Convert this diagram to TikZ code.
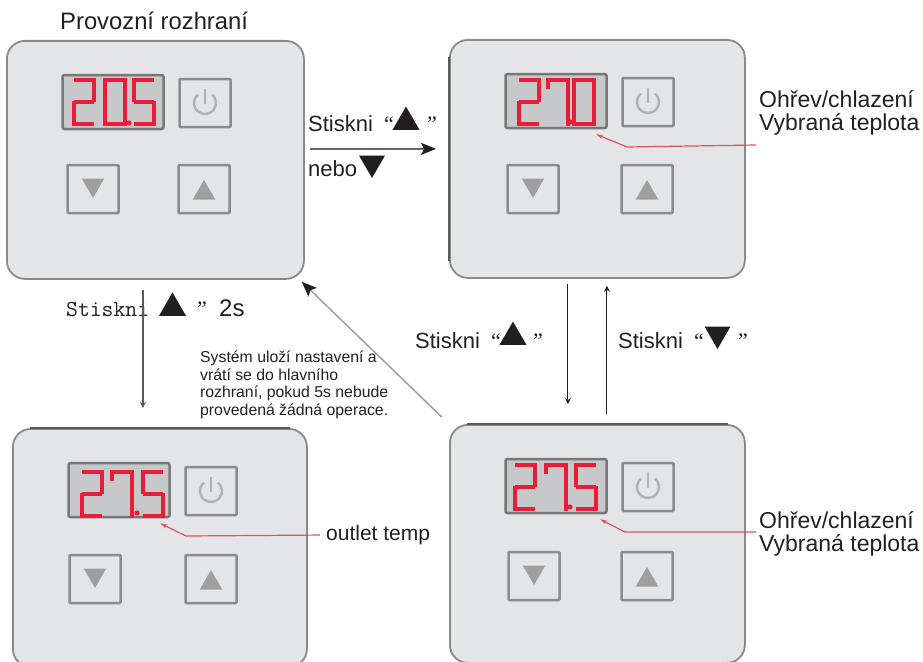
\documentclass[tikz,border=0pt]{standalone}
\usepackage{fontspec}
\setmainfont{Liberation Sans}
\newfontfamily\quotefont{Liberation Serif}
\usetikzlibrary{shapes.geometric}
\usetikzlibrary{arrows.meta}
\usetikzlibrary{calc}

\definecolor{panelfill}{HTML}{E3E5E8}
\definecolor{panelline}{HTML}{8A8A8A}
\definecolor{dispfill}{HTML}{C6C8CA}
\definecolor{btnline}{HTML}{8C8C8C}
\definecolor{ledred}{HTML}{EA1C38}
\definecolor{leadred}{HTML}{E4505C}
\definecolor{inktext}{HTML}{231F20}

\tikzset{
  panelbox/.style={draw=panelline, line width=1.8pt, fill=panelfill, rounded corners=18pt,
    minimum height=238pt, inner sep=0pt, anchor=north west},
  paneledge/.style={draw=black!65, line width=1.3pt},
  dispbox/.style={draw=btnline!85!black, line width=2.5pt, fill=dispfill, rounded corners=2pt,
    minimum width=101pt, minimum height=54pt, inner sep=0pt},
  btnbox/.style={draw=btnline, line width=2.5pt, fill=panelfill, rounded corners=1pt,
    minimum width=51pt, minimum height=48pt, inner sep=0pt},
  triup/.style={regular polygon, regular polygon sides=3, fill=#1, draw=none, inner sep=0pt},
  tridown/.style={triup=#1, shape border rotate=180},
  seg/.style={draw=ledred, line width=4.6pt},
  words/.style={text=inktext, inner sep=0pt, anchor=base west, font=\fontsize{22}{26}\selectfont},
  flowbig/.style={draw=#1, line width=1.5pt, -{Stealth[length=15pt,width=12pt,inset=3pt,color=inktext]}},
  flowsmall/.style={draw=inktext, line width=1.1pt, -{Stealth[length=6pt,width=6pt]}},
  lead/.style={draw=leadred, line width=1.2pt, -{Stealth[length=7pt,width=4pt]}}
}

% one segment each, digit box 20 x 44
\def\sega{(0,0) -- (20,0)}
\def\segb{(20,-2) -- (20,22)}
\def\segc{(20,21) -- (20,46)}
\def\segd{(0,44) -- (20,44)}
\def\sege{(0,21) -- (0,46)}
\def\segf{(0,-2) -- (0,22)}
\def\segg{(0,22) -- (20,22)}
\def\segh{(0,-2) -- (0,9)}

\newcommand{\segdigit}[3]{
  \foreach \s in {#3} {
    \draw[seg,shift={(#1,#2)}] \csname seg\s\endcsname;
  }
}

% name, x, y, width, down button x, up button x, button row y
\newcommand{\panel}[7]{
  \node[panelbox, minimum width=#4pt] (#1) at (#2,#3) {};
  \begin{scope}[shift={(#2,#3)}]
    \node[dispbox] (#1disp) at (107,62) {};
    \node[btnbox] (#1power) at (199,63) {};
    \node[btnbox] (#1down) at (#5,#7) {};
    \node[btnbox] (#1up) at (#6,#7) {};
    \node[tridown=gray!75, minimum size=26pt, yshift=4pt] (#1downmark) at (#1down.center) {};
    \node[triup=gray!75, minimum size=26pt, yshift=-4pt] (#1upmark) at (#1up.center) {};
    \draw[draw=gray!60, line width=2.4pt] ([shift={(50:11pt)}]#1power.center) arc[start angle=50, end angle=-230, radius=11pt];
    \draw[draw=gray!60, line width=2.4pt] ($(#1power.center)+(0,-14)$) -- ($(#1power.center)+(0,1)$);
  \end{scope}
}

\begin{document}
\begin{tikzpicture}[x=1pt,y=-1pt]
  \path[use as bounding box, clip] (0,0) rectangle (923,661);

  % operating panels
  \panel{main}{6}{40}{297}{87}{198}{149}
  \panel{set}{449}{39}{295}{84}{198}{150}
  \panel{out}{12}{428}{294}{83}{199}{151}
  \panel{hot}{449}{424}{295}{85}{198}{152}

  % darker rims
  \draw[paneledge] ($(set.north west)+(0,18)$) -- ($(set.south west)+(0,-18)$);
  \draw[paneledge] ($(out.north west)+(18,0)$) -- ($(out.north east)+(-18,0)$);
  \draw[paneledge] ($(hot.north west)+(18,0)$) -- ($(hot.north east)+(-18,0)$);

  % display digits
  \segdigit{74}{80}{a,b,g,e,d}
  \segdigit{105}{80}{a,b,c,d,e,f}
  \segdigit{134}{80}{a,f,g,c,d}
  \fill[ledred] (129,123) circle (2.6pt);

  \segdigit{519}{80}{a,b,g,e,d}
  \segdigit{548}{80}{a,b,c,h}
  \segdigit{574}{80}{a,b,c,d,e,f}
  \fill[ledred] (570,122) circle (2.6pt);

  \segdigit{82}{472}{a,b,g,e,d}
  \segdigit{112}{472}{a,b,c,h}
  \segdigit{143}{472}{a,f,g,c,d}
  \fill[ledred] (137,513) circle (2.6pt);

  \segdigit{515}{465}{a,b,g,e,d}
  \segdigit{546}{465}{a,b,c,h}
  \segdigit{576}{465}{a,f,g,c,d}
  \fill[ledred] (570,507) circle (2.6pt);

  % title
  \node[words, font=\fontsize{23.8}{28}\selectfont] (title) at (60,30) {Provozní rozhraní};

  % main to set
  \node[words] (pressa) at (308,131) {Stiskni\hspace{11pt}{\quotefont “}};
  \node[triup=inktext, minimum size=31pt] (pressamark) at (406,122) {};
  \node[words] (pressaend) at (427,131) {\quotefont ”};
  \node[words] (orb) at (308,176) {nebo};
  \node[tridown=inktext, minimum size=30pt] (orbmark) at (372,163) {};
  \draw[flowbig=gray!80!black, shorten <=5pt, shorten >=13pt] ($(main.east)+(0,-11)$) -- ($(set.west)+(0,-10)$);

  % main to out
  \node[words, font=\ttfamily\fontsize{23}{26}\selectfont] (pressc) at (66,316) {Stiskni};
  \node[triup=inktext, minimum size=31pt] (presscmark) at (172.5,308) {};
  \node[words] (presscend) at (197,316) {\quotefont ”};
  \node[words, font=\fontsize{24}{26}\selectfont] (pressctime) at (219,316) {2s};
  \draw[flowsmall, draw=gray!70!black, line width=1.4pt, shorten <=10pt, shorten >=20pt] ($(main.south)+(-12.5,0)$) -- ($(out.north)+(-17,0)$);

  % back to main
  \node[text=inktext, inner sep=0pt, anchor=north west, align=left, font=\fontsize{15.8}{17.5}\selectfont]
        (note) at (200,351) {Systém uloží nastavení a\\vrátí se do hlavního\\rozhraní, pokud 5s nebude\\provedená žádná operace.};
  \draw[flowbig=gray!75, shorten <=10pt] (hot.north west) -- ($(main.south east)+(-3,2)$);

  % set and hot
  \node[words] (pressd) at (415,348) {Stiskni\hspace{11pt}{\quotefont “}};
  \node[triup=inktext, minimum size=31pt] (pressdmark) at (513,337) {};
  \node[words] (pressdend) at (533,348) {\quotefont ”};
  \node[words] (presse) at (618,348) {Stiskni\hspace{11pt}{\quotefont “}};
  \node[tridown=inktext, minimum size=30pt] (pressemark) at (717.5,334) {};
  \node[words] (presseend) at (738,348) {\quotefont ”};
  \draw[flowsmall, shorten <=5pt, shorten >=20pt] ($(set.south)+(-29.5,0)$) -- ($(hot.north)+(-29.5,0)$);
  \draw[flowsmall, shorten <=10pt, shorten >=7pt] ($(hot.north)+(9.5,0)$) -- ($(set.south)+(9.5,0)$);

  % callouts
  \node[words, align=left, anchor=west, font=\fontsize{23}{23}\selectfont] (labset) at (759,113) {Ohřev/chlazení\\Vybraná teplota};
  \node[words, align=left, anchor=west, font=\fontsize{23}{23}\selectfont] (labhot) at (759,534) {Ohřev/chlazení\\Vybraná teplota};
  \node[words, anchor=west, font=\fontsize{21}{25}\selectfont] (labout) at (326,535) {outlet temp};
  \coordinate (kneeset) at (627,147);
  \coordinate (kneeout) at (186,536);
  \coordinate (kneehot) at (625,532);
  \coordinate (tailset) at (756,145);
  \coordinate (tailhot) at (756,532);
  \draw[lead] (tailset) -- (kneeset) -- ($(setdisp.south)+(40,5)$);
  \draw[lead, shorten <=6pt] (labout.west) -- (kneeout) -- ($(outdisp.south)+(41,5)$);
  \draw[lead] (tailhot) -- (kneehot) -- ($(hotdisp.south)+(44,5)$);
\end{tikzpicture}
\end{document}
